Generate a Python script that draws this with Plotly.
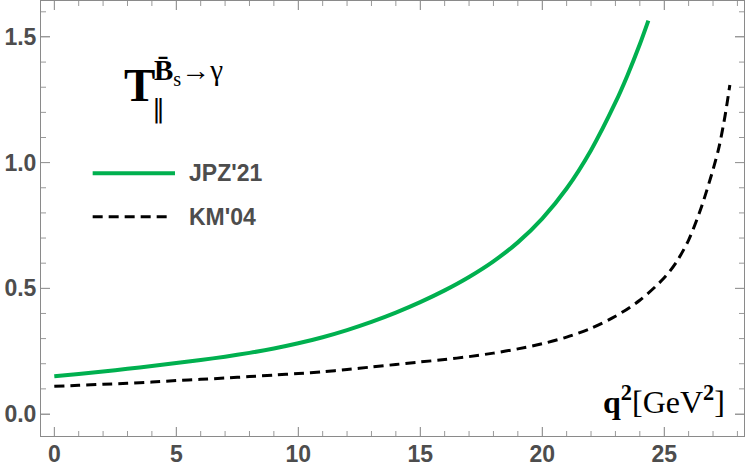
import plotly.graph_objects as go

# ---- data ----
q2_jpz = [0, 1, 2, 3, 4, 5, 6, 7, 8, 9, 10, 11, 12, 13, 14, 15, 16, 17, 18, 19, 20, 21, 22, 23, 23.5, 24, 24.35]
t_jpz = [0.150, 0.1594, 0.1693, 0.1797, 0.1907, 0.2025, 0.2149, 0.2281, 0.2432, 0.2606, 0.2812, 0.3055,
         0.3339, 0.3665, 0.4034, 0.4450, 0.4918, 0.5452, 0.6074, 0.6828, 0.7776, 0.8971, 1.0497, 1.2393,
         1.3490, 1.4708, 1.5650]

q2_km = [0, 1, 2, 3, 4, 5, 6, 7, 8, 9, 10, 11, 12, 13, 14, 15, 16, 17, 18, 19, 20, 21, 22, 23, 24, 25,
         25.5, 26, 26.5, 27, 27.25, 27.5, 27.69]
t_km = [0.110, 0.114, 0.118, 0.122, 0.127, 0.133, 0.138, 0.143, 0.149, 0.155, 0.161, 0.168, 0.177, 0.187,
        0.197, 0.207, 0.2167, 0.2283, 0.2422, 0.2590, 0.2797, 0.3057, 0.3412, 0.3886, 0.4524, 0.5416,
        0.6046, 0.6920, 0.8161, 0.9722, 1.0637, 1.1900, 1.3090]

x_major = [0, 5, 10, 15, 20, 25]
x_minor = list(range(0, 29))
y_major = [0.0, 0.5, 1.0, 1.5]
y_minor = [round(0.1 * i, 1) for i in range(0, 17)]
legend_names = ["JPZ'21", "KM'04"]

GREEN = "#00B04F"
TXT = "#4d4d4d"
AX = "#8a8a8a"
TICK = "#999999"
X_RANGE = [-0.545, 28.27]
Y_RANGE = [-0.0875, 1.643]
PLOT_W, PLOT_H = 703, 435

fig = go.Figure()
fig.add_trace(go.Scatter(x=q2_jpz, y=t_jpz, mode="lines", line=dict(color=GREEN, width=4, shape="spline", smoothing=0.8),
                         name=legend_names[0], showlegend=False))
fig.add_trace(go.Scatter(x=q2_km, y=t_km, mode="lines",
                         line=dict(color="black", width=3, dash="10px,6px", shape="spline", smoothing=0.8),
                         name=legend_names[1], showlegend=False))

tickfont = dict(family="Liberation Sans", size=23, color=TXT, weight="bold")

fig.update_xaxes(range=X_RANGE, tickmode="array", tickvals=x_major, tickfont=tickfont,
                 ticklabelstandoff=-3, showgrid=False, zeroline=False, showline=True, linecolor=AX,
                 mirror="allticks", ticks="inside", ticklen=9, tickcolor=TICK, tickwidth=1,
                 automargin=False, layer="above traces")
fig.update_yaxes(range=Y_RANGE, tickmode="array", tickvals=y_major, tickformat=".1f", tickfont=tickfont,
                 ticklabelstandoff=-1, showgrid=False, zeroline=False, showline=True, linecolor=AX,
                 mirror="allticks", ticks="inside", ticklen=9, tickcolor=TICK, tickwidth=1,
                 automargin=False, layer="above traces")

# tick marks (major 9 px, minor 5 px) on all four sides, positioned through the axes' own scales
tick_line = dict(color=TICK, width=1)
for xv in x_minor:
    ln = (9 if xv in x_major else 5) / PLOT_H
    fig.add_shape(type="line", xref="x", yref="paper", x0=xv, x1=xv, y0=0, y1=ln, line=tick_line)
    fig.add_shape(type="line", xref="x", yref="paper", x0=xv, x1=xv, y0=1, y1=1 - ln, line=tick_line)
for yv in y_minor:
    ln = (9 if yv in y_major else 5) / PLOT_W
    fig.add_shape(type="line", xref="paper", yref="y", x0=0, x1=ln, y0=yv, y1=yv, line=tick_line)
    fig.add_shape(type="line", xref="paper", yref="y", x0=1, x1=1 - ln, y0=yv, y1=yv, line=tick_line)

# legend drawn as decorations (paper coordinates)
fig.add_shape(type="line", xref="paper", yref="paper", x0=0.0735, x1=0.1906, y0=0.604, y1=0.604,
              line=dict(color=GREEN, width=4))
fig.add_shape(type="line", xref="paper", yref="paper", x0=0.0735, x1=0.1850, y0=0.504, y1=0.504,
              line=dict(color="black", width=3, dash="10px,6px"))
fig.add_annotation(xref="paper", yref="paper", x=(187 - 41) / 703, y=0.604, text="<b>" + legend_names[0] + "</b>",
                   showarrow=False, xanchor="left", yanchor="middle",
                   font=dict(family="Liberation Sans", size=23, color=TXT))
fig.add_annotation(xref="paper", yref="paper", x=(187 - 41) / 703, y=0.504, text="<b>" + legend_names[1] + "</b>",
                   showarrow=False, xanchor="left", yanchor="middle",
                   font=dict(family="Liberation Sans", size=23, color=TXT))

# form factor label T_parallel^{Bbar_s -> gamma}
SERIF = "Liberation Serif"
fig.add_annotation(xref="paper", yref="paper", x=(122 - 41) / 703, y=(436 - 85) / 435, text="<b>T</b>",
                   showarrow=False, xanchor="left", yanchor="middle",
                   font=dict(family=SERIF, size=47, color="black"))
fig.add_annotation(xref="paper", yref="paper", x=(152 - 41) / 703, y=(436 - 72) / 435,
                   text="<b>B̄</b><sub>s</sub>→γ",
                   showarrow=False, xanchor="left", yanchor="middle",
                   font=dict(family=SERIF, size=29, color="black"))
fig.add_annotation(xref="paper", yref="paper", x=(158 - 41) / 703, y=(436 - 109) / 435, text="∥",
                   showarrow=False, xanchor="center", yanchor="middle",
                   font=dict(family=SERIF, size=26, color="black"))

# x-axis label
fig.add_annotation(xref="paper", yref="paper", x=(727 - 41) / 703, y=(436 - 400) / 435,
                   text="<b>q</b><sup><b>2</b></sup>[GeV<sup><b>2</b></sup>]",
                   showarrow=False, xanchor="right", yanchor="middle",
                   font=dict(family=SERIF, size=32, color="black"))

fig.update_layout(width=747, height=472, margin=dict(l=41, r=3, t=1, b=36),
                  paper_bgcolor="white", plot_bgcolor="white")

fig.write_html("out.html", config={"displayModeBar": False},
               post_script="document.body.style.margin='0px';document.body.style.overflow='hidden';")
